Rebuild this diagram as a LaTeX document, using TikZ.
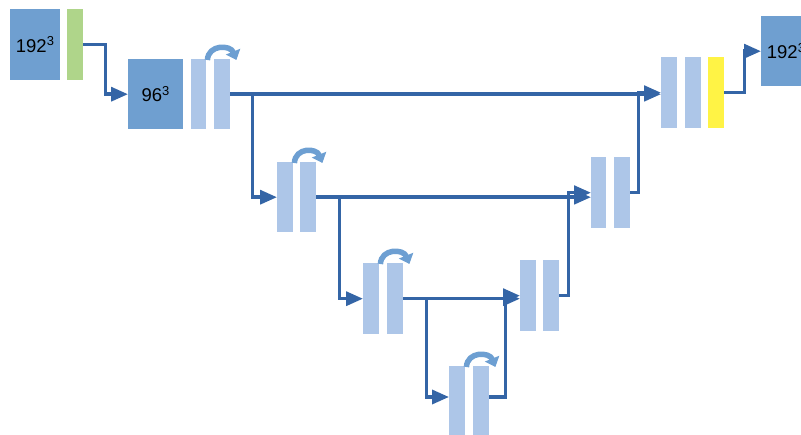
\documentclass[tikz,border=0pt]{standalone}
\usepackage{fontspec}
\setmainfont{Liberation Sans}
\usetikzlibrary{arrows.meta,calc}
\definecolor{boxblue}{HTML}{6F9FD0}
\definecolor{barblue}{HTML}{ADC6E8}
\definecolor{connblue}{HTML}{3465A6}
\definecolor{loopblue}{HTML}{6D9FD2}
\definecolor{bargreen}{HTML}{AFD58A}
\definecolor{baryellow}{HTML}{FFF345}
\tikzset{
  blk/.style={fill=boxblue, draw=none, inner sep=0pt, anchor=north west, minimum height=70pt, font=\fontsize{18.5}{20}\selectfont},
  bar/.style={fill=barblue, draw=none, inner sep=0pt, anchor=north west, minimum width=16pt, minimum height=71pt},
  conn/.style={draw=connblue, line width=3.4pt, -{Triangle[length=17pt,width=14pt]}},
  loopar/.style={draw=loopblue, line width=5.5pt, -{Triangle[length=9pt,width=15pt]}}
}
\begin{document}
\begin{tikzpicture}[x=1pt,y=-1pt]
\clip (0,0) rectangle (801,435);
\fill[white] (0,0) rectangle (801,435);
% input
\node[blk, minimum width=50pt, minimum height=71pt] (in) at (10,9) {192\textsuperscript{3}};
\node[bar, fill=bargreen] (g0) at (67,9) {};
\node[blk, minimum width=55pt] (b1) at (128,59) {96\textsuperscript{3}};
% encoder
\node[bar, minimum width=15pt, minimum height=70pt] (d1a) at (191,59) {};
\node[bar, minimum height=70pt] (d1b) at (214,59) {};
\node[bar, minimum height=70pt] (d2a) at (277,162) {};
\node[bar, minimum height=70pt] (d2b) at (300,162) {};
\node[bar] (d3a) at (363,263) {};
\node[bar] (d3b) at (387,263) {};
\node[bar, minimum height=72pt] (d4a) at (449,366) {};
\node[bar, minimum height=72pt] (d4b) at (473,366) {};
\coordinate (d4in) at ($(d4a.north west)+(0,31)$);
\coordinate (d4out) at ($(d4b.north east)+(0,31)$);
% decoder
\node[bar] (u3a) at (520,260) {};
\node[bar] (u3b) at (543,260) {};
\node[bar, minimum width=15pt] (u2a) at (591,157) {};
\node[bar] (u2b) at (614,157) {};
\node[bar] (u1a) at (661,57) {};
\node[bar] (u1b) at (685,57) {};
\node[bar, fill=baryellow] (y1) at (708,57) {};
\node[blk, minimum width=50pt] (out) at (761,16) {192\textsuperscript{3}};
% connectors
\draw[conn] (g0.east) -- ++(22,0) |- (b1.west);
\draw[conn] (d1b.east) -- (d1b.east -| u1a.west);
\draw[conn] (d1b.east) -- ++(22,0) |- (d2a.west);
\draw[conn] (d2b.east) -- (d2b.east -| u2a.west);
\draw[conn] (d2b.east) -- ++(23,0) |- (d3a.west);
\draw[conn] (d3b.east) -- (d3b.east -| u3a.west);
\draw[conn] (d3b.east) -- ++(23,0) |- (d4in);
\draw[conn] (d4out) -- ++(16,0) |- (u3a.west);
\draw[conn] (u3b.east) -- ++(9,0) |- (u2a.west);
\draw[conn] (u2b.east) -- ++(8,0) |- (u1a.west);
\draw[conn] (y1.east) -- ++(20,0) |- (out.west);
% recurrent loops
\foreach \a/\b in {d1a/d1b,d2a/d2b,d3a/d3b,d4a/d4b}{
  \draw[loopar] ($(\a.north east)+(1,1)$) .. controls +(1,-16) and +(-6,-15) .. ($(\b.north east)+(6,1)$);
}
\end{tikzpicture}
\end{document}
